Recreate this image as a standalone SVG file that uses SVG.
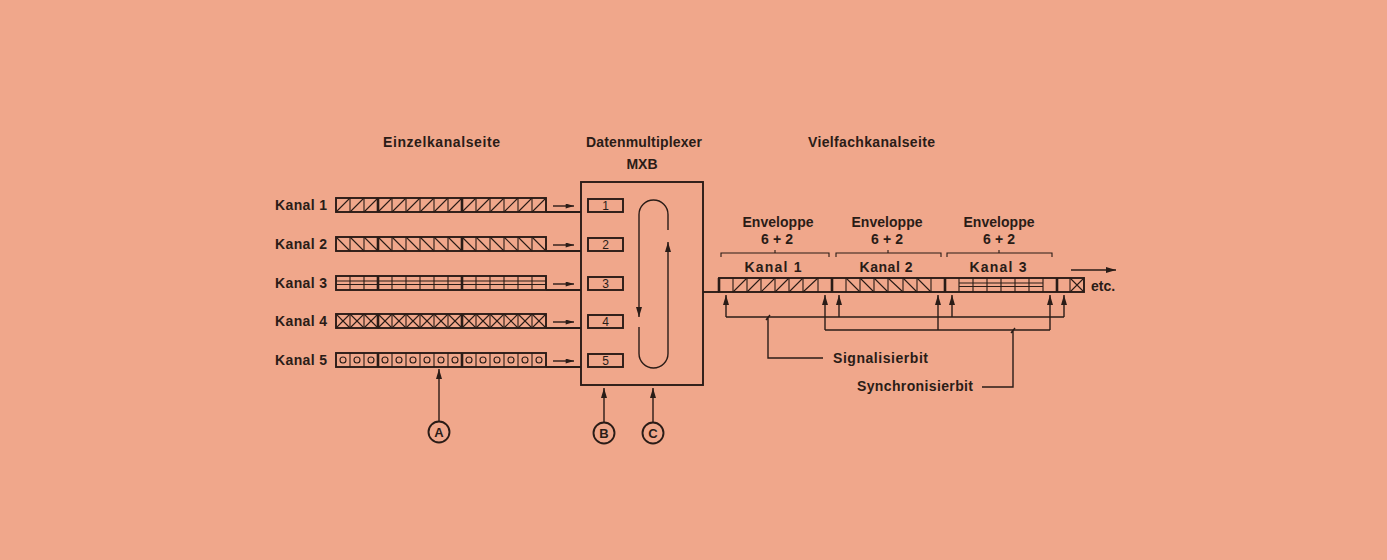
<svg xmlns="http://www.w3.org/2000/svg" xmlns:xlink="http://www.w3.org/1999/xlink" width="1387" height="560" viewBox="0 0 1387 560">
<style>
.ink{stroke:#2a1c17;fill:none;stroke-width:1.4}
.thin{stroke:#2a1c17;fill:none;stroke-width:1.1}
.thick{stroke:#2a1c17;fill:none;stroke-width:2.6}
.frame{stroke:#2a1c17;fill:none;stroke-width:1.9}
.lbl{font-family:"Liberation Sans",Arial,sans-serif;font-weight:bold;font-size:14px;fill:#2a1c17}
.num{font-family:"Liberation Sans",Arial,sans-serif;font-size:12px;fill:#2a1c17;text-anchor:middle}
.circ{font-family:"Liberation Sans",Arial,sans-serif;font-weight:bold;font-size:13px;fill:#2a1c17;text-anchor:middle}
.mid{text-anchor:middle}
</style>
<defs>
<marker id="ah" viewBox="0 0 10 6" refX="10" refY="3" markerWidth="10" markerHeight="6" markerUnits="userSpaceOnUse" orient="auto"><path d="M0,0L10,3L0,6z" fill="#2a1c17"/></marker>
<marker id="ahs" viewBox="0 0 10 6" refX="10" refY="3" markerWidth="9" markerHeight="5" markerUnits="userSpaceOnUse" orient="auto"><path d="M0,0L10,3L0,6z" fill="#2a1c17"/></marker>
<g id="barFrame">
<path class="thin" d="M350,0v14M364,0v14M392,0v14M406,0v14M420,0v14M434,0v14M448,0v14M476,0v14M490,0v14M504,0v14M518,0v14M532,0v14"/>
<path class="thick" d="M378,0v14M462,0v14"/>
<rect x="336" y="0" width="210" height="14" class="frame"/>
<path class="frame" d="M546,14H581"/>
<path class="ink" d="M553,8H574" marker-end="url(#ahs)"/>
</g>
<path id="fwd" class="thin" d="M336,14l14,-14m0,14l14,-14m0,14l14,-14m0,14l14,-14m0,14l14,-14m0,14l14,-14m0,14l14,-14m0,14l14,-14m0,14l14,-14m0,14l14,-14m0,14l14,-14m0,14l14,-14m0,14l14,-14m0,14l14,-14m0,14l14,-14"/>
<path id="bwd" class="thin" d="M336,0l14,14m0,-14l14,14m0,-14l14,14m0,-14l14,14m0,-14l14,14m0,-14l14,14m0,-14l14,14m0,-14l14,14m0,-14l14,14m0,-14l14,14m0,-14l14,14m0,-14l14,14m0,-14l14,14m0,-14l14,14m0,-14l14,14"/>
</defs>
<rect width="1387" height="560" fill="#f0a78b"/>

<g id="headings">
<text class="lbl" x="383" y="147" textLength="117">Einzelkanalseite</text>
<text class="lbl" x="586" y="147" textLength="116">Datenmultiplexer</text>
<text class="lbl mid" x="642" y="169">MXB</text>
<text class="lbl" x="808" y="147" textLength="127">Vielfachkanalseite</text>
</g>

<g id="kanal1">
<text class="lbl" x="275" y="210" textLength="52">Kanal 1</text>
<use xlink:href="#fwd" y="198"/>
<use xlink:href="#barFrame" y="198"/>
</g>
<g id="kanal2">
<text class="lbl" x="275" y="249" textLength="52">Kanal 2</text>
<use xlink:href="#bwd" y="237"/>
<use xlink:href="#barFrame" y="237"/>
</g>
<g id="kanal3">
<text class="lbl" x="275" y="288" textLength="52">Kanal 3</text>
<path class="thin" d="M336,281H546M336,284.5H546"/>
<use xlink:href="#barFrame" y="276"/>
</g>
<g id="kanal4">
<text class="lbl" x="275" y="326" textLength="52">Kanal 4</text>
<use xlink:href="#fwd" y="314"/>
<use xlink:href="#bwd" y="314"/>
<use xlink:href="#barFrame" y="314"/>
</g>
<g id="kanal5">
<text class="lbl" x="275" y="365" textLength="52">Kanal 5</text>
<use xlink:href="#barFrame" y="353"/>
<g class="thin">
<circle cx="343" cy="360" r="3"/><circle cx="357" cy="360" r="3"/><circle cx="371" cy="360" r="3"/><circle cx="385" cy="360" r="3"/><circle cx="399" cy="360" r="3"/><circle cx="413" cy="360" r="3"/><circle cx="427" cy="360" r="3"/><circle cx="441" cy="360" r="3"/><circle cx="455" cy="360" r="3"/><circle cx="469" cy="360" r="3"/><circle cx="483" cy="360" r="3"/><circle cx="497" cy="360" r="3"/><circle cx="511" cy="360" r="3"/><circle cx="525" cy="360" r="3"/><circle cx="539" cy="360" r="3"/>
</g>
</g>

<g id="mux">
<rect x="581" y="182" width="122" height="203" class="frame"/>
<g class="frame">
<rect x="588" y="199" width="35" height="13"/>
<rect x="588" y="238" width="35" height="13"/>
<rect x="588" y="277" width="35" height="13"/>
<rect x="588" y="315" width="35" height="13"/>
<rect x="588" y="354" width="35" height="13"/>
</g>
<text class="num" x="605.5" y="210">1</text>
<text class="num" x="605.5" y="249">2</text>
<text class="num" x="605.5" y="288">3</text>
<text class="num" x="605.5" y="326">4</text>
<text class="num" x="605.5" y="365">5</text>
<path class="ink" d="M668,230V214.5A14.5,14.5 0 0 0 639,214.5V317" marker-end="url(#ah)"/>
<path class="ink" d="M639,327V353.5A14.5,14.5 0 0 0 668,353.5V242" marker-end="url(#ah)"/>
</g>

<g id="multiplexbar">
<path class="thin" d="M733,278v14M747,278v14M761,278v14M775,278v14M789,278v14M803,278v14M818,278v14M846,278v14M860,278v14M874,278v14M888,278v14M903,278v14M917,278v14M931,278v14M959,278v14M973,278v14M987,278v14M1001,278v14M1015,278v14M1029,278v14M1043,278v14M1070,278v14"/>
<path class="thin" d="M733,292L747,278M747,292L761,278M761,292L775,278M775,292L789,278M789,292L803,278M803,292L818,278"/>
<path class="thin" d="M846,278L860,292M860,278L874,292M874,278L888,292M888,278L903,292M903,278L917,292M917,278L931,292"/>
<path class="thin" d="M959,283H1043M959,286.5H1043"/>
<path class="thin" d="M1070,278L1084,292M1084,278L1070,292"/>
<path class="thick" d="M719,278v14M832,278v14M945,278v14M1057,278v14"/>
<rect x="719" y="278" width="365" height="14" class="frame"/>
<text class="lbl" x="1091" y="291">etc.</text>
</g>

<g id="envelopes">
<path class="thin" d="M721,257V253H829V257M775,253V250"/>
<path class="thin" d="M836,257V253H941V257M888,253V250"/>
<path class="thin" d="M947,257V253H1052V257M999,253V250"/>
<text class="lbl mid" x="778" y="227" textLength="71">Enveloppe</text>
<text class="lbl mid" x="777" y="244" textLength="32">6+2</text>
<text class="lbl mid" x="773" y="272" textLength="57">Kanal  1</text>
<text class="lbl mid" x="887" y="227" textLength="71">Enveloppe</text>
<text class="lbl mid" x="887" y="244" textLength="32">6+2</text>
<text class="lbl mid" x="886" y="272" textLength="53">Kanal 2</text>
<text class="lbl mid" x="999" y="227" textLength="71">Enveloppe</text>
<text class="lbl mid" x="999" y="244" textLength="32">6+2</text>
<text class="lbl mid" x="998" y="272" textLength="57">Kanal  3</text>
</g>

<g id="bitlabels">
<text class="lbl" x="833" y="363" textLength="95">Signalisierbit</text>
<text class="lbl" x="857" y="391" textLength="116">Synchronisierbit</text>
</g>

<g id="markers">
<circle cx="439" cy="432" r="10.5" class="frame"/>
<text class="circ" x="439" y="437">A</text>
<circle cx="604" cy="433" r="10.5" class="frame"/>
<text class="circ" x="604" y="438">B</text>
<circle cx="653" cy="433" r="10.5" class="frame"/>
<text class="circ" x="653" y="438">C</text>
</g>

<g id="connectors">
<path class="frame" d="M703,292H719"/>
<path class="ink" d="M1071,270H1116" marker-end="url(#ah)"/>
<path class="ink" d="M439,421.5V369" marker-end="url(#ah)"/>
<path class="ink" d="M604,422.5V388" marker-end="url(#ah)"/>
<path class="ink" d="M653,422.5V388" marker-end="url(#ah)"/>
<g class="ink">
<path d="M726,317V295" marker-end="url(#ah)"/>
<path d="M839,317V295" marker-end="url(#ah)"/>
<path d="M952,317V295" marker-end="url(#ah)"/>
<path d="M1064,317V295" marker-end="url(#ah)"/>
<path d="M825,330V295" marker-end="url(#ah)"/>
<path d="M938,330V295" marker-end="url(#ah)"/>
<path d="M1050,330V295" marker-end="url(#ah)"/>
<path d="M726,317H1064"/>
<path d="M825,330H1050"/>
<path d="M768,317V358H823M766,320L770,315"/>
<path d="M1013,330V387H982M1011,333L1015,328"/>
</g>
</g>
</svg>
